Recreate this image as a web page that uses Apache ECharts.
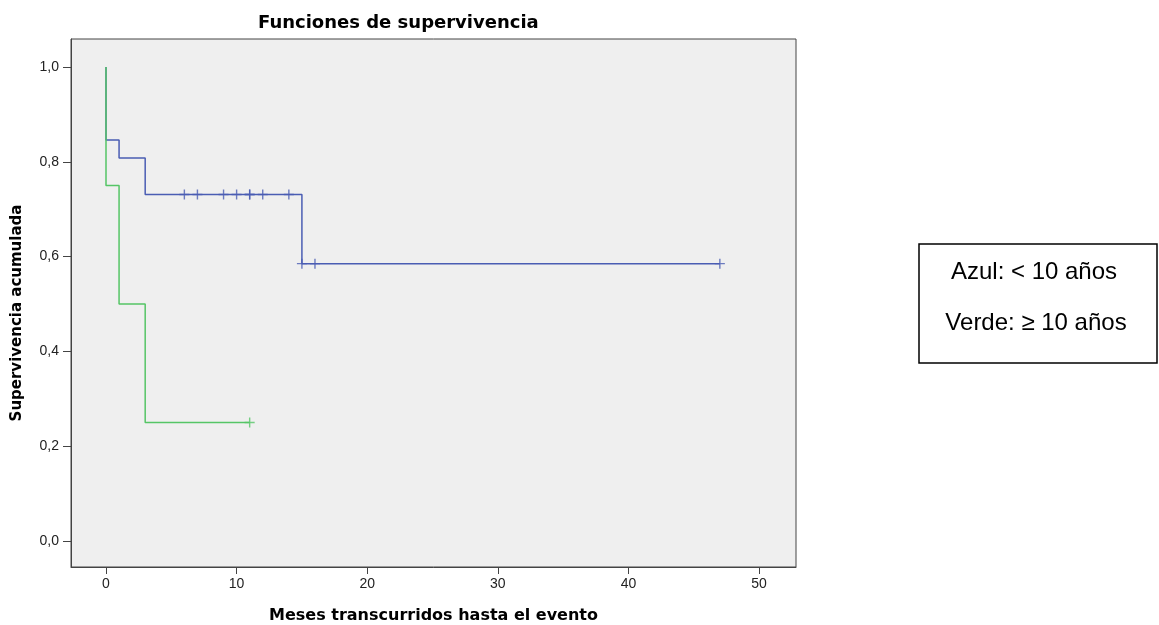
<!DOCTYPE html>
<html>
<head>
<meta charset="utf-8">
<script src="https://cdn.jsdelivr.net/npm/echarts@6/dist/echarts.min.js"></script>
<style>
  html, body { margin: 0; padding: 0; background: #fff; }
  #chart { width: 1159px; height: 625px; }
</style>
</head>
<body>
<div id="chart"></div>
<script>
// Kaplan-Meier steps: [months, cumulative survival]
var blueSteps = [[0, 1.0], [0, 0.846], [1, 0.808], [3, 0.731], [15, 0.585], [47, 0.585]];
var greenSteps = [[0, 1.0], [0, 0.75], [1, 0.5], [3, 0.25], [11, 0.25]];
// censored cases
var blueCensored = [[6, 0.731], [7, 0.731], [9, 0.731], [10, 0.731], [11, 0.731], [11, 0.731], [12, 0.731], [14, 0.731], [15, 0.585], [16, 0.585], [47, 0.585]];
var greenCensored = [[11, 0.25]];
var xTicks = [0, 10, 20, 30, 40, 50];
var yTicks = [0, 0.2, 0.4, 0.6, 0.8, 1.0];
var legendLines = ["Azul: < 10 años", "Verde: ≥ 10 años"];

var blue = "#4a5db3";
var green = "#55c566";
var plus = "path://M0,4.3 h10 v1.4 h-10 z M4.3,0 h1.4 v10 h-1.4 z";
var narrow = "'Liberation Sans Narrow', 'Liberation Sans', Arial, sans-serif";
var sans = "'Liberation Sans', Arial, sans-serif";
var wide = "'DejaVu Sans', Verdana, sans-serif";

var chart = echarts.init(document.getElementById("chart"));
var option = {
  backgroundColor: "#fff",
  animation: false,
  title: {
    text: "Funciones de supervivencia",
    left: 253,
    top: 9,
    textStyle: { fontFamily: wide, fontSize: 18, fontWeight: "bold", color: "#000" }
  },
  grid: {
    left: 71, top: 39, right: 363, bottom: 58,
    outerBoundsMode: "none",
    containLabel: false,
    show: true,
    backgroundColor: "#efefef",
    borderColor: "#444",
    borderWidth: 1
  },
  xAxis: {
    type: "value",
    min: -2.68,
    max: 52.83,
    name: "Meses transcurridos hasta el evento",
    nameLocation: "middle",
    nameGap: 41,
    nameTextStyle: { fontFamily: wide, fontSize: 16, fontWeight: "bold", color: "#000" },
    axisLine: { show: true, onZero: false, lineStyle: { color: "#444" } },
    axisTick: { show: true, length: 7, customValues: xTicks, lineStyle: { color: "#444" } },
    axisLabel: { customValues: xTicks, fontFamily: narrow, fontSize: 14, color: "#222", margin: 10 },
    splitLine: { show: false }
  },
  yAxis: {
    type: "value",
    min: -0.055,
    max: 1.059,
    name: "Supervivencia acumulada",
    nameLocation: "middle",
    nameGap: 46,
    nameTextStyle: { fontFamily: wide, fontSize: 15, fontWeight: "bold", color: "#000", padding: [0, 20, 0, 0] },
    axisLine: { show: true, onZero: false, lineStyle: { color: "#444" } },
    axisTick: { show: true, length: 8, customValues: yTicks, lineStyle: { color: "#444" } },
    axisLabel: {
      customValues: yTicks,
      fontFamily: narrow, fontSize: 14, color: "#222", margin: 12,
      formatter: function (v) { return v.toFixed(1).replace(".", ","); }
    },
    splitLine: { show: false }
  },
  series: [
    {
      type: "line", step: "end", data: blueSteps, symbol: "none",
      lineStyle: { color: blue, width: 1.5 }, z: 2
    },
    {
      type: "line", step: "end", data: greenSteps, symbol: "none",
      lineStyle: { color: green, width: 1.5 }, z: 3
    },
    {
      type: "scatter", data: blueCensored, symbol: plus, symbolSize: 10,
      itemStyle: { color: blue }, z: 4
    },
    {
      type: "scatter", data: greenCensored, symbol: plus, symbolSize: 10,
      itemStyle: { color: green }, z: 4
    }
  ],
  graphic: [
    {
      type: "rect", x: 919, y: 244,
      shape: { width: 238, height: 119 },
      style: { fill: "#fff", stroke: "#000", lineWidth: 1.5 }
    },
    {
      type: "text", x: 1034, y: 272,
      style: { text: legendLines[0], fill: "#000", font: "24px " + sans, align: "center", verticalAlign: "middle" }
    },
    {
      type: "text", x: 1036, y: 323,
      style: { text: legendLines[1], fill: "#000", font: "24px " + sans, align: "center", verticalAlign: "middle" }
    }
  ]
};
chart.setOption(option);
</script>
</body>
</html>
